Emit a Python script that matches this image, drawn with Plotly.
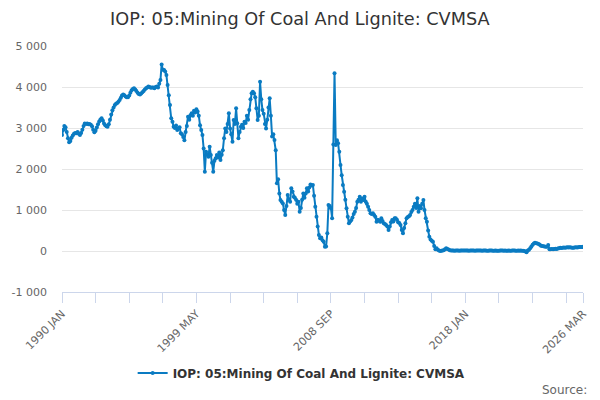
import pandas as pd
import plotly.graph_objects as go

# monthly values, 1990 JAN .. 2026 MAR
values_1990s = [
    2830, 2950, 3050, 3020, 2900, 2750, 2650, 2680, 2760, 2820, 2860, 2880,  # 1990
    2870, 2900, 2860, 2830, 2880, 2960, 3050, 3110, 3100, 3110, 3090, 3100,  # 1991
    3080, 3040, 2960, 2895, 2930, 3010, 3090, 3160, 3210, 3235, 3180, 3110,  # 1992
    3070, 3040, 3030, 3090, 3200, 3330, 3430, 3500, 3560, 3590, 3610, 3640,  # 1993
    3680, 3740, 3790, 3820, 3800, 3770, 3750, 3750, 3790, 3860, 3920, 3950,  # 1994
    3970, 3940, 3900, 3860, 3830, 3820, 3840, 3870, 3900, 3940, 3970, 3990,  # 1995
    4010, 4000, 3980, 3990, 3985, 3970, 4000, 4010, 3990, 4080, 4170, 4550,  # 1996
    4420, 4415, 4380, 4290, 4050, 3800, 3560, 3235, 3150, 3030, 3000, 3060,  # 1997
    2950, 2990, 3020, 2870, 2850, 2780, 2700, 2900, 3050, 3275, 3200, 3310,  # 1998
    3360, 3300, 3420, 3380, 3460, 3400, 3300, 3070, 2950, 2830, 2500, 1935,  # 1999
]
values_2000s = [
    2420, 2350, 2300, 2545, 2340, 2150, 1935, 2200, 2260, 2340, 2280, 2400,  # 2000
    2220, 2350, 2460, 2750, 2990, 2900, 3100, 3360, 2990, 2850, 2665, 3195,  # 2001
    3100, 3480, 3115, 2750, 2900, 3030, 3080, 3000, 3150, 3120, 3300, 3200,  # 2002
    3440, 3700, 3845, 3885, 3850, 3750, 3480, 3195, 3300, 4130, 3700, 3440,  # 2003
    3350, 3100, 2990, 3200, 3500, 3725, 3300, 2790, 2850, 2705, 2460, 1650,  # 2004
    1750, 1400, 1245, 1200, 1160, 1000, 880, 1100, 1365, 1250, 1200, 1530,   # 2005
    1450, 1325, 1300, 1250, 1150, 1200, 960, 1050, 1250, 1405, 1300, 1400,   # 2006
    1530, 1450, 1550, 1625, 1600, 1610, 1350, 1080, 835, 600, 390, 310,      # 2007
    330, 260, 225, 105, 110, 430, 1120, 1100, 1040, 800, 2600, 4335,         # 2008
    2585, 2700, 2630, 2420, 2100, 1850, 1610, 1445, 1250, 1040, 835, 675,    # 2009
]
values_2010s = [
    720, 755, 820, 900, 960, 1050, 1200, 1250, 1325, 1200, 1280, 1245,      # 2010
    1325, 1200, 1150, 1080, 1000, 920, 900, 920, 880, 835, 715, 760,         # 2011
    740, 715, 800, 730, 675, 660, 635, 600, 510, 600, 700, 755,              # 2012
    720, 800, 800, 760, 700, 680, 635, 510, 430, 560, 675, 800,              # 2013
    830, 850, 880, 950, 1000, 1080, 1150, 1050, 1285, 960, 1100, 1040,       # 2014
    1150, 1245, 1000, 800, 715, 500, 350, 280, 250, 225, 120, 40,            # 2015
    65, 30, 10, 0, 5, 10, 20, 40, 65, 50, 35, 20,                            # 2016
    15, 10, 10, 8, 10, 12, 10, 8, 10, 12, 10, 10,                            # 2017
    10, 12, 10, 8, 10, 15, 12, 10, 8, 10, 12, 14,                            # 2018
    12, 10, 8, 10, 12, 10, 9, 8, 10, 12, 10, 8,                              # 2019
]
values_2020s = [
    8, 10, 6, 5, 8, 10, 12, 10, 8, 10, 9, 8,                                 # 2020
    10, 8, 9, 10, 12, 10, 8, 9, 10, 8, 10, 9,                                # 2021
    5, 0, -10, -30, 10, 30, 65, 110, 150, 180, 200, 190,                     # 2022
    180, 170, 150, 130, 120, 115, 110, 105, 105, 145, 40, 45,                # 2023
    50, 45, 50, 55, 50, 60, 70, 80, 75, 80, 85, 80,                          # 2024
    85, 90, 85, 90, 85, 80, 80, 85, 90, 85, 90, 95,                          # 2025
    95, 100, 105,                                                            # 2026
]

series_name = "IOP: 05:Mining Of Coal And Lignite: CVMSA"
tick_labels = ["1990 JAN", "1999 MAY", "2008 SEP", "2018 JAN", "2026 MAR"]
y_ticks = [-1000, 0, 1000, 2000, 3000, 4000, 5000]
y_labels = ["-1 000", "0", "1 000", "2 000", "3 000", "4 000", "5 000"]

values = values_1990s + values_2000s + values_2010s + values_2020s
dates = pd.date_range("1990-01-01", periods=len(values), freq="MS")

# tick every 28 months, label every 4th one, plus the last month
tick_idx = list(range(0, len(values), 28)) + [len(values) - 1]
label_idx = [0, 112, 224, 336, len(values) - 1]
tickvals = [dates[i] for i in tick_idx]
ticktext = [tick_labels[label_idx.index(i)] if i in label_idx else "" for i in tick_idx]

fig = go.Figure()
fig.add_trace(go.Scatter(
    x=dates, y=values, name=series_name,
    mode="lines+markers",
    line=dict(color="#0a7bc2", width=2),
    marker=dict(color="#0a7bc2", size=4),
    showlegend=True,
))

# page body has an 8px margin, so the figure is a bit smaller than the window
fig.update_layout(
    width=592, height=392,
    margin=dict(l=54, r=17, t=38, b=100),
    paper_bgcolor="white", plot_bgcolor="white",
    font=dict(family="DejaVu Sans", color="#666666", size=11),
    title=dict(text=series_name, x=0.493, xanchor="center", y=0.972, yanchor="middle",
               font=dict(size=17.7, color="#333333")),
    legend=dict(orientation="h", x=0.46, xanchor="center", y=-0.329, yanchor="middle",
                itemwidth=30,
                font=dict(size=12, color="#333333", weight="bold")),
    annotations=[dict(text="Source:", xref="paper", yref="paper", x=1.012, y=-0.398,
                      xanchor="right", yanchor="middle", showarrow=False,
                      font=dict(size=12, color="#666666"))],
)

fig.update_xaxes(
    range=[dates[0], dates[-1]],
    tickmode="array", tickvals=tickvals, ticktext=ticktext, tickangle=-45,
    ticks="outside", ticklen=10, tickcolor="#ccd6eb",
    showline=True, linecolor="#ccd6eb", showgrid=False, zeroline=False,
    automargin=False,
)
fig.update_yaxes(
    range=[-1000, 5000], tickmode="array", tickvals=y_ticks, ticktext=y_labels,
    showgrid=True, gridcolor="#e6e6e6", zeroline=False, showline=False,
    ticks="", ticklabelstandoff=14, automargin=False,
)

fig.write_html("out.html")
